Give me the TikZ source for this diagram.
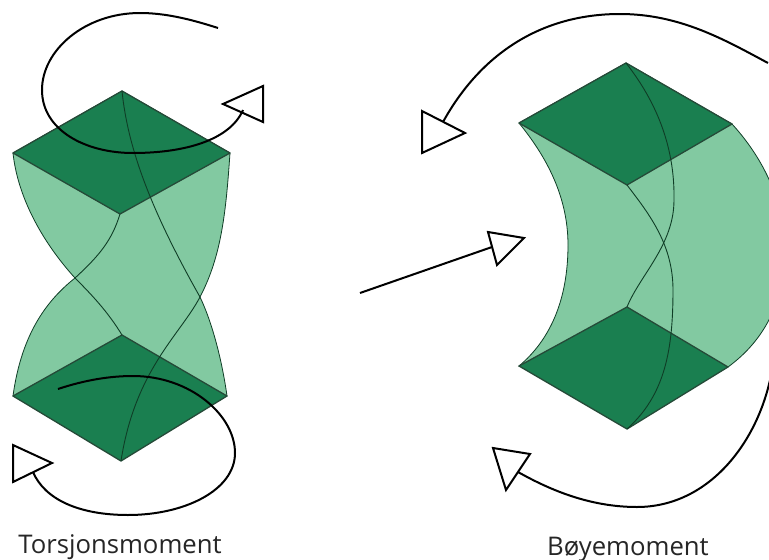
\documentclass[tikz,border=0pt]{standalone}
\usepackage{fontspec}
\setmainfont{Open Sans}
\usetikzlibrary{positioning}
\definecolor{faceGreen}{HTML}{82C9A1}
\definecolor{capGreen}{HTML}{1A7F50}
\definecolor{edgeGreen}{HTML}{0F3D26}
\tikzset{
  blockface/.style={fill=faceGreen,draw=edgeGreen,line width=0.8pt},
  blockcap/.style={fill=capGreen,draw=edgeGreen!80!gray,line width=1.3pt,line join=round},
  blockedge/.style={draw=edgeGreen,line width=0.9pt},
  moment/.style={draw=black,line width=2pt},
  openhead/.style={draw=black,line width=2pt,line join=miter},
  caption/.style={font=\fontsize{25.7}{30}\selectfont,text=black!85,inner sep=0pt,anchor=base}
}
\begin{document}
\begin{tikzpicture}[x=1pt,y=-1pt]
  \useasboundingbox (0,0) rectangle (769,560);
  \clip (0,0) rectangle (769,560);
  \fill[white] (0,0) rectangle (769,560);
  % torsion block
  \coordinate (tBack) at (122,91); \coordinate (tRight) at (230,153);
  \coordinate (tFront) at (120,214); \coordinate (tLeft) at (13,153);
  \coordinate (bBack) at (122,335); \coordinate (bRight) at (227,396);
  \coordinate (bFront) at (121,461); \coordinate (bLeft) at (13,396);
  \coordinate (waistL) at (75,278); \coordinate (waistR) at (200,297);
  \path[blockface] (tLeft) .. controls (18,200) and (45,245) .. (waistL)
    .. controls (50,298) and (22,330) .. (bLeft) -- (bRight)
    .. controls (222,360) and (212,322) .. (waistR)
    .. controls (222,255) and (226,210) .. (tRight) -- (tBack) -- cycle;
  \draw[blockcap] (bBack) -- (bRight) -- (bFront) -- (bLeft) -- cycle;
  \draw[blockcap] (tBack) -- (tRight) -- (tFront) -- (tLeft) -- cycle;
  \draw[blockedge] (waistL) .. controls (92,295) and (108,312) .. (bBack);
  \draw[blockedge] (tFront) .. controls (112,240) and (100,255) .. (waistL);
  \draw[blockedge] (tBack) .. controls (128,150) and (152,212) .. (waistR);
  \draw[blockedge] (waistR) .. controls (180,335) and (135,370) .. (bFront);
  % bending block
  \coordinate (uBack) at (626,63); \coordinate (uRight) at (732,124);
  \coordinate (uFront) at (627,185); \coordinate (uLeft) at (519,123);
  \coordinate (lBack) at (627,307); \coordinate (lRight) at (728,367);
  \coordinate (lFront) at (627,429); \coordinate (lLeft) at (519,366);
  \path[blockface] (uLeft) .. controls (545,155) and (568,195) .. (568,245)
    .. controls (568,300) and (550,340) .. (lLeft) -- (lRight)
    .. controls (765,340) and (785,300) .. (785,250)
    .. controls (785,205) and (765,160) .. (uRight) -- (uBack) -- cycle;
  \draw[blockcap] (lBack) -- (lRight) -- (lFront) -- (lLeft) -- cycle;
  \draw[blockcap] (uBack) -- (uRight) -- (uFront) -- (uLeft) -- cycle;
  \draw[blockedge] (uFront) .. controls (650,215) and (673,245) .. (673,290)
    .. controls (673,350) and (665,395) .. (lFront);
  \draw[blockedge] (uBack) .. controls (655,100) and (675,145) .. (674,200)
    .. controls (674,245) and (640,275) .. (lBack);
  % moments
  \draw[moment] (218,28) .. controls (190,19) and (165,13) .. (140,13)
    .. controls (85,13) and (42,50) .. (42,90)
    .. controls (42,130) and (85,153) .. (133,153)
    .. controls (185,153) and (230,140) .. (243,110);
  \draw[openhead] (223,104) -- (263,86) -- (263,122) -- cycle;
  \draw[moment] (58,389) .. controls (85,380) and (110,376) .. (133,376)
    .. controls (190,376) and (235,415) .. (235,453)
    .. controls (235,490) and (185,515) .. (128,515)
    .. controls (80,515) and (45,500) .. (33,472);
  \draw[openhead] (52,463) -- (13,445) -- (13,482) -- cycle;
  \draw[moment] (768,63) .. controls (725,40) and (680,14) .. (620,14)
    .. controls (540,14) and (480,55) .. (443,122);
  \draw[openhead] (465,133) -- (422,111) -- (422,153) -- cycle;
  \coordinate (forceStart) at (360,293); \coordinate (forceEnd) at (492,247);
  \draw[moment] (forceStart) -- (forceEnd);
  \draw[openhead] (524,238) -- (488,232) -- (497,265) -- cycle;
  \draw[moment] (772,370) .. controls (760,440) and (710,507) .. (637,507)
    .. controls (590,507) and (550,490) .. (518,472);
  \draw[openhead] (530,454) -- (493,448) -- (506,490) -- cycle;
  \node[caption] (torsion) at (120,553) {Torsjonsmoment};
  \node[caption] (bending) at (628,555) {Bøyemoment};
\end{tikzpicture}
\end{document}
